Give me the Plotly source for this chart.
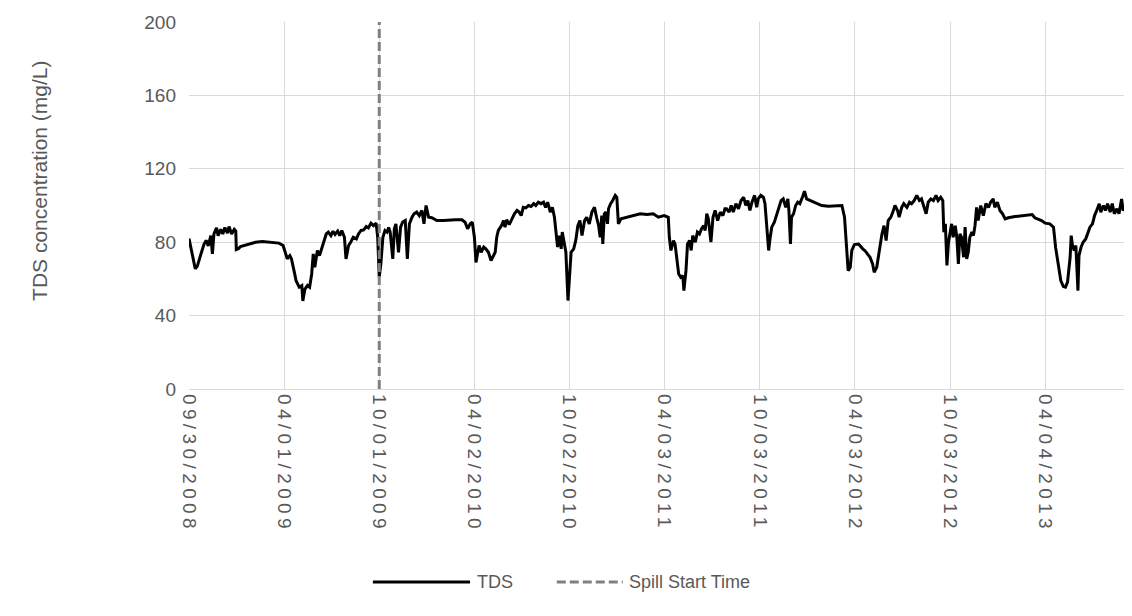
import pandas as pd
import plotly.graph_objects as go

# days since 09/30/2008 and TDS concentration (mg/L)
start = pd.Timestamp('2008-09-30')
days = [0, 5, 12, 16, 21, 24, 29, 33, 37, 42, 45, 48, 53, 56, 61, 65, 69, 74, 77, 82, 87, 90, 91, 95, 99,
        112, 128, 141, 157, 173, 181, 186, 189, 194, 197, 202, 206, 212, 217, 219, 223, 228, 232, 236, 239,
        242, 247, 251,
        259, 264, 268, 273, 277, 281, 286, 290, 294, 299, 302, 307, 311, 316, 322, 326, 331, 336, 341, 345,
        350, 355, 360, 363, 366, 369, 373, 377, 381, 384, 387, 392, 395, 398, 403, 407, 411, 416, 420, 424,
        429, 433, 438, 443, 448, 452, 456, 461, 467, 477, 490, 502,
        512, 525, 531, 536, 541, 545, 549, 552, 556, 558, 562, 567, 571, 576, 581, 586, 589, 592, 595, 601,
        605, 608, 611, 616, 621, 626, 631, 635, 639, 643, 648, 653, 658, 663, 667, 672, 677, 682, 686, 690,
        695, 699, 703, 706, 709, 712, 716, 718, 722, 725, 729, 731, 735, 740, 744, 748, 752, 756, 761, 765,
        770, 775, 780,
        784, 788, 791, 794, 796, 799, 802, 805, 807, 811, 815, 820, 823, 826, 831, 842, 855, 868, 881, 893,
        903, 914, 922, 924, 927, 932, 935, 938, 942, 946, 950, 952, 956, 959, 963, 966, 969, 974, 978, 982,
        986, 990, 993, 996, 999, 1004, 1008, 1012, 1017, 1022, 1027, 1031,
        1034, 1039, 1043, 1047, 1052, 1057, 1062, 1067, 1071, 1075, 1079, 1083, 1088, 1092, 1095, 1100, 1105,
        1108, 1111, 1115, 1118, 1121, 1126, 1131, 1135, 1139, 1143, 1148, 1152, 1154, 1157, 1159, 1163, 1167,
        1171, 1175, 1180, 1184, 1188, 1195, 1204, 1217, 1230, 1243, 1256, 1261, 1265, 1268, 1272, 1275, 1280,
        1288,
        1296, 1300, 1305, 1310, 1315, 1318, 1323, 1328, 1333, 1337, 1341, 1345, 1350, 1354, 1358, 1363, 1366,
        1371, 1375, 1381, 1386, 1390, 1395, 1400, 1405, 1409, 1414, 1418, 1422, 1427, 1432, 1437, 1441, 1446,
        1450, 1452, 1455, 1458, 1461, 1464, 1467, 1470, 1474, 1477, 1480, 1483, 1486, 1490, 1493, 1496, 1499,
        1502, 1506, 1509, 1512, 1515, 1518, 1523, 1528, 1533, 1538, 1542, 1547, 1550, 1555,
        1560, 1565, 1570, 1576, 1589, 1605, 1622, 1627, 1634, 1640, 1647, 1656, 1663, 1667, 1672, 1677, 1682,
        1686, 1690, 1695, 1697, 1700, 1703, 1706, 1710, 1712, 1716, 1720, 1725, 1729, 1733, 1738, 1742, 1746,
        1751, 1754, 1759, 1763, 1767, 1772, 1776, 1780, 1785, 1789, 1794, 1797, 1802, 1806, 1810, 1813, 1818]
tds = [82, 75.5, 65.5, 67, 71, 74.5, 79, 81, 78, 83.6, 73.6, 84.5, 87.8, 83.6, 87, 84.5, 88, 85, 88.5, 84.5,
       87, 86, 76, 76.4, 77.6,
       78.7, 80, 80.4, 80, 79.5, 78.2, 73.6, 71, 72.7, 71, 64.5, 59, 55.5, 56.4, 48, 54.5, 56.4, 55.5, 62.7,
       73.6, 66.4, 75.5, 72.7,
       80, 84.5, 85.5, 83.6, 86, 84.2, 86, 83.6, 86.4, 82.7, 70.9, 78.2, 80, 82.7, 81.8, 84.5, 86.4, 86.7,
       88.5, 87.8, 90.4, 89, 90.4, 82.7, 61, 68, 82.7, 86.4, 85.5, 88, 85.5, 70.9, 87.3, 90, 74.5, 88.2, 91,
       91.8, 70.9, 90, 93.6, 95.5, 96.4, 94.5, 97.3, 90, 100, 93.6, 93.3, 91.8, 91.8, 92.2,
       92.2, 92.2, 90.9, 87.3, 90, 90.9, 82.7, 69, 75.5, 78.2, 74.5, 77.3, 76.4, 74.5, 70, 72.7, 74.5, 82.7,
       86.4, 89, 91.8, 88.2, 92.2, 89.6, 92.7, 95.5, 97.3, 96.4, 94.5, 99, 98.7, 100, 99.5, 101, 100, 101.8,
       101, 101.8, 99, 101.8, 96.4, 99, 93.6, 85.5, 77.3, 83.6, 76.4, 85.5, 79, 74.5, 48.2, 59, 74.5, 76.4,
       81, 89, 91.8, 83.6, 91.8, 93.6, 90, 96.4, 99,
       93.6, 89, 82.7, 94.5, 79, 95.5, 96.4, 90, 98.2, 101, 102.7, 105.5, 104.5, 90, 92.7, 93.6, 94.5, 95.5,
       95.1, 95.5, 93.6, 94.5, 93.6, 82.7, 75.5, 80.9, 79, 71.8, 62.7, 60.9, 61.8, 53.6, 64.5, 79, 80.9, 75.5,
       83.6, 80, 85.5, 84.5, 87.3, 89, 86.4, 95.5, 92.7, 80, 93.6, 97.3, 91.8, 96.4, 94.5, 98.2,
       98.2, 96.4, 100, 96.4, 101, 98.2, 102.7, 104.5, 100, 102.7, 97.3, 101.8, 105.5, 99, 103.6, 105.5, 104.5,
       101, 90, 75.5, 82.7, 88.2, 90.9, 95.5, 99, 102.7, 103.6, 99, 103.6, 97.3, 79, 93.6, 95.5, 100, 101.8,
       101, 104.5, 107.8, 103.6, 102.7, 101.3, 100, 99.6, 100, 100, 93.6, 79, 64.5, 66.4, 75.5, 78.7, 79,
       76.4, 75.5, 73.6, 71.8, 68.2, 63.6, 66.4, 75.5, 84.5, 89, 80.9, 91.8, 93.6, 96.4, 100, 97.3, 93.6, 99,
       101, 99, 101.8, 101, 102.7, 105.5, 102.7, 103.6, 99, 95.5, 101.8, 103.6, 102.7, 105.5, 102.7, 104.5,
       102.7, 85.5, 90, 67.3, 80, 85.5, 90, 82.7, 89, 82.7, 68.2, 84.5, 82.7, 71.8, 88.2, 70.9, 74.5, 82.7,
       85.5, 83.6, 89, 99, 91.8, 100, 94.5, 101, 99, 101.8, 103.6, 99, 101.8,
       97.3, 95.5, 92.7, 93.3, 94, 94.5, 95.1, 93.3, 92.7, 91.8, 90.4, 90, 88.2, 77.3, 68.2, 59.1, 55.8, 55.5,
       58.2, 71.8, 83.6, 77.3, 75.5, 78.2, 53.6, 72.7, 77.3, 80, 81.8, 85.5, 88.2, 90, 94.5, 97.3, 101, 96.4,
       100, 97.3, 101, 96.4, 101, 95.5, 98.2, 95.5, 103.6, 97.3, 99, 92.7, 91.8, 84.5, 84]

spill_date = '2009-10-01'
tick_dates = ['2008-09-30', '2009-04-01', '2009-10-01', '2010-04-02', '2010-10-02', '2011-04-03',
              '2011-10-03', '2012-04-03', '2012-10-03', '2013-04-04']
tick_labels = ['09/30/2008', '04/01/2009', '10/01/2009', '04/02/2010', '10/02/2010', '04/03/2011',
               '10/03/2011', '04/03/2012', '10/03/2012', '04/04/2013']

dates = start + pd.to_timedelta(days, unit='D')
grey = '#595959'
font = dict(family='Liberation Sans, Arial', size=19, color=grey)
legend_font = dict(family='Liberation Sans, Arial', size=18, color=grey)

fig = go.Figure()
fig.add_trace(go.Scatter(x=dates, y=tds, mode='lines', name='TDS',
                         line=dict(color='black', width=3)))
fig.add_trace(go.Scatter(x=[spill_date, spill_date], y=[0, 200], mode='lines', name='Spill Start Time',
                         line=dict(color='#808080', width=3, dash='9px,4px')))

# page body has an 8px margin, so the figure is 8px smaller than the window
fig.update_layout(
    width=1124, height=608,
    margin=dict(l=181, r=0, t=14, b=227),
    plot_bgcolor='white', paper_bgcolor='white',
    font=font,
    showlegend=False,
)
fig.update_xaxes(range=[start, start + pd.Timedelta(days=1814)],
                 tickvals=tick_dates, ticktext=tick_labels, tickangle=90,
                 showgrid=True, gridcolor='#d9d9d9', gridwidth=1.3,
                 showline=True, linecolor='#d9d9d9', linewidth=1.3, ticks='', zeroline=False)
fig.update_yaxes(range=[0, 200], dtick=40, showgrid=True, gridcolor='#d9d9d9', gridwidth=1.3,
                 zeroline=False, ticks='', ticklabelstandoff=12)

# y title and hand-made legend (long line samples, as in the original)
fig.add_annotation(text='TDS concentration (mg/L)', textangle=-90, x=-0.158, y=0.567,
                   xref='paper', yref='paper', xanchor='center', yanchor='middle', showarrow=False,
                   font=dict(family='Liberation Sans, Arial', size=21, color=grey))
fig.add_shape(type='line', xref='paper', yref='paper', x0=0.195, x1=0.298, y0=-0.526, y1=-0.526,
              line=dict(color='black', width=3))
fig.add_annotation(text='TDS', x=0.303, y=-0.526, xref='paper', yref='paper', xanchor='left',
                   yanchor='middle', showarrow=False, font=legend_font)
fig.add_shape(type='line', xref='paper', yref='paper', x0=0.39, x1=0.46, y0=-0.526, y1=-0.526,
              line=dict(color='#808080', width=3, dash='9px,4px'))
fig.add_annotation(text='Spill Start Time', x=0.465, y=-0.526, xref='paper', yref='paper', xanchor='left',
                   yanchor='middle', showarrow=False, font=legend_font)

# the original date labels are set with wide letter spacing
spacing = "document.querySelectorAll('.xtick text').forEach(function(t){t.style.letterSpacing='4.4px';});"
fig.write_html('out.html', post_script=spacing)
